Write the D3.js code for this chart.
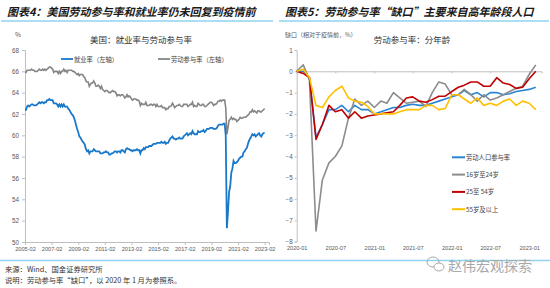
<!DOCTYPE html>
<html>
<head>
<meta charset="utf-8">
<script src="https://cdn.jsdelivr.net/npm/d3@7"></script>
<style>
  body { margin: 0; background: #fff; }
  svg { display: block; font-family: "Noto Sans CJK SC", "Noto Sans", sans-serif; }
</style>
</head>
<body>
<svg id="chart" width="550" height="288"></svg>
<script>
// ---- left panel: US employment-population ratio and participation rate, monthly from 2005-02
const empStart = '2005-02';
const empRate = [
  62.4, 62.4, 62.7, 62.8, 62.7, 62.8, 62.9, 62.9, 62.8, 62.8, 62.8,
  62.9, 63.0, 63.1, 63.0, 63.1, 63.1, 63.0, 63.1, 63.1, 63.3, 63.3, 63.4,
  63.3, 63.3, 63.3, 63.0, 63.0, 63.0, 62.9, 62.7, 62.9, 62.7, 62.9, 62.7,
  62.9, 62.7, 62.7, 62.7, 62.5, 62.4, 62.2, 62.0, 61.9, 61.7, 61.4, 61.0,
  60.6, 60.3, 59.9, 59.8, 59.6, 59.4, 59.3, 59.1, 58.7, 58.5, 58.6, 58.3,
  58.5, 58.5, 58.5, 58.7, 58.6, 58.5, 58.5, 58.5, 58.5, 58.3, 58.3, 58.3,
  58.4, 58.4, 58.5, 58.4, 58.4, 58.2, 58.2, 58.3, 58.3, 58.4, 58.5, 58.5,
  58.4, 58.5, 58.5, 58.4, 58.6, 58.6, 58.5, 58.4, 58.7, 58.8, 58.7, 58.7,
  58.6, 58.6, 58.5, 58.6, 58.6, 58.6, 58.7, 58.6, 58.6, 58.3, 58.6, 58.6,
  58.8, 58.7, 58.9, 58.9, 58.9, 59.0, 59.0, 59.0, 59.1, 59.2, 59.2, 59.2,
  59.3, 59.3, 59.3, 59.3, 59.4, 59.3, 59.3, 59.4, 59.2, 59.3, 59.3, 59.5,
  59.7, 59.8, 59.9, 59.7, 59.7, 59.6, 59.7, 59.7, 59.8, 59.7, 59.7, 59.7,
  59.9, 60.0, 60.1, 60.2, 60.0, 60.1, 60.2, 60.1, 60.4, 60.2, 60.1, 60.1,
  60.1, 60.4, 60.3, 60.3, 60.4, 60.4, 60.5, 60.3, 60.4, 60.6, 60.6, 60.6,
  60.7, 60.7, 60.7, 60.6, 60.6, 60.6, 60.7, 60.9, 61.0, 61.0, 61.0, 61.0,
  61.1, 61.1, 60.0, 51.3, 52.8, 54.7, 55.2, 56.5, 56.9, 57.6, 57.4, 57.4,
  57.5, 57.6, 57.8, 57.9, 58.0, 58.0, 58.4, 58.5, 58.7, 58.8, 59.2, 59.5,
  59.7, 59.9, 60.1, 60.0, 60.1, 59.9, 60.0, 60.1, 60.2, 60.0, 59.9, 60.1,
  60.2, 60.2
];
const partRate = [
  65.9, 65.9, 66.1, 66.1, 66.1, 66.1, 66.2, 66.1, 66.1, 66.0, 66.0,
  66.0, 66.1, 66.2, 66.1, 66.1, 66.2, 66.1, 66.2, 66.1, 66.2, 66.3, 66.4,
  66.4, 66.3, 66.2, 65.9, 66.0, 66.0, 66.0, 65.8, 66.0, 65.8, 66.0, 66.0,
  66.2, 66.0, 66.1, 65.9, 66.1, 66.1, 66.1, 66.1, 66.0, 66.0, 65.9, 65.8,
  65.7, 65.8, 65.6, 65.7, 65.7, 65.7, 65.5, 65.4, 65.1, 65.0, 65.0, 64.6,
  64.8, 64.9, 64.9, 65.1, 64.9, 64.6, 64.6, 64.7, 64.6, 64.4, 64.6, 64.3,
  64.2, 64.1, 64.2, 64.2, 64.1, 64.0, 64.0, 64.1, 64.2, 64.1, 64.1, 64.0,
  63.7, 63.8, 63.8, 63.7, 63.8, 63.8, 63.7, 63.5, 63.6, 63.8, 63.6, 63.7,
  63.6, 63.4, 63.3, 63.4, 63.4, 63.4, 63.3, 63.3, 63.2, 62.8, 63.0, 62.9,
  62.9, 62.9, 63.1, 62.8, 62.8, 62.8, 62.9, 62.9, 62.8, 62.9, 62.9, 62.7,
  62.9, 62.7, 62.7, 62.7, 62.8, 62.6, 62.6, 62.6, 62.4, 62.5, 62.5, 62.7,
  62.7, 62.8, 63.0, 62.8, 62.6, 62.7, 62.8, 62.8, 62.9, 62.8, 62.7, 62.7,
  62.9, 62.9, 62.9, 62.9, 62.7, 62.8, 62.9, 62.9, 63.1, 62.7, 62.8, 62.7,
  62.7, 63.0, 62.9, 62.8, 62.8, 62.9, 62.9, 62.7, 62.7, 62.8, 62.9, 63.0,
  63.1, 63.1, 63.0, 62.8, 62.9, 62.9, 63.0, 63.2, 63.2, 63.3, 63.2, 63.3,
  63.3, 63.3, 62.6, 60.1, 60.7, 61.4, 61.5, 61.7, 61.5, 61.6, 61.5, 61.5,
  61.3, 61.4, 61.5, 61.7, 61.6, 61.6, 61.7, 61.7, 61.7, 61.8, 61.9, 62.0,
  62.2, 62.2, 62.4, 62.2, 62.3, 62.2, 62.1, 62.3, 62.3, 62.2, 62.2, 62.3,
  62.4, 62.5
];
const leftXTicks = ['2005-02', '2007-02', '2009-02', '2011-02', '2013-02', '2015-02',
                    '2017-02', '2019-02', '2021-02', '2023-02'];
const leftYTicks = [50, 52, 54, 56, 58, 60, 62, 64, 66, 68];
const leftNames = ['就业率（左轴）', '劳动参与率（左轴）'];

// ---- right panel: participation gap vs 2020-01 by age group, monthly from 2020-01
const gapStart = '2020-01';
const gapTotal = [
  0, 0, -0.3, -3.1, -2.5, -1.8, -1.8, -1.6, -1.9, -1.6, -1.8, -1.8,
  -2.0, -1.9, -1.8, -1.7, -1.7, -1.6, -1.55, -1.6, -1.6, -1.5, -1.4, -1.3,
  -1.2, -1.1, -0.9, -1.1, -1.0, -1.2, -1.0, -1.0, -1.1, -1.05, -0.95, -0.9,
  -0.85, -0.75
];
const gapYoung = [
  0, 0.3, -0.4, -7.5, -5.1, -4.3, -4.0, -3.5, -2.2, -1.3, -1.6, -1.4,
  -1.7, -1.4, -1.5, -1.0, -1.25, -1.5, -1.45, -1.4, -1.65, -1.0, -0.5, -0.6,
  -1.1, -1.1, -0.85, -1.1, -1.4, -1.1, -1.35, -1.25, -1.1, -0.95, -0.8, -0.7,
  -0.15, 0.3
];
const gapPrime = [
  0, -0.1, -0.3, -3.2, -2.5, -1.6, -1.9, -1.8, -2.2, -1.9, -2.2, -2.1,
  -2.05, -2.0, -1.95, -1.9, -1.6, -1.25, -1.2, -1.4, -1.45, -1.33, -1.17, -1.17,
  -0.95, -0.75, -0.65, -0.5, -0.5, -0.7, -0.7, -0.3, -0.55, -0.62, -0.8, -0.75,
  -0.35, 0.0
];
const gapOld = [
  0, 0.1, -0.3, -1.6, -1.7, -1.2, -0.9, -0.7, -1.25, -1.4, -1.45, -1.65,
  -2.0, -2.0, -2.0, -2.0, -1.9, -1.8, -1.8, -1.8, -1.6, -1.6, -1.8, -1.75,
  -1.1, -1.1, -1.3, -1.5, -1.25, -1.6, -1.5, -1.6, -1.4, -1.3, -1.6, -1.4,
  -1.5, -1.8
];
const rightXTicks = ['2020-01', '2020-07', '2021-01', '2021-07', '2022-01', '2022-07', '2023-01'];
const rightYTicks = [1, 0, -1, -2, -3, -4, -5, -6, -7, -8];
const gapNames = ['劳动人口参与率', '16岁至24岁', '25至 54岁', '55岁及以上'];

const parseMonth = d3.timeParse('%Y-%m');
const fmtMonth = d3.timeFormat('%Y-%m');

function monthly(start, values) {
  const t0 = parseMonth(start);
  return values.map((v, i) => ({ date: d3.timeMonth.offset(t0, i), value: v }));
}

const svg = d3.select('#chart');
const axisColor = '#bfbfbf';
const labelColor = '#595959';

function styleAxis(g, size) {
  g.select('.domain').attr('stroke', axisColor);
  g.selectAll('.tick line').attr('stroke', axisColor);
  g.selectAll('.tick text').attr('fill', labelColor).style('font-size', (size || 6.5) + 'px')
    .style('font-family', '"Liberation Sans", Arial, sans-serif');
}

function header(x0, x1, title) {
  svg.append('text')
    .attr('x', x0 + 6).attr('y', 15.5)
    .style('font-size', '11px').style('font-weight', 'bold').style('font-style', 'italic')
    .attr('fill', '#1a1a1a')
    .text(title);
  svg.append('line')
    .attr('x1', x0).attr('x2', x1).attr('y1', 21).attr('y2', 21)
    .attr('stroke', '#8fd3f2').attr('stroke-width', 1.3);
}

// ---------------- left chart
header(1, 273, '图表4：美国劳动参与率和就业率仍未回复到疫情前');

const lx = d3.scaleTime()
  .domain([parseMonth('2005-02'), parseMonth('2023-06')])
  .range([25, 269]);
const ly = d3.scaleLinear().domain([50, 68]).range([242, 50]);

svg.append('g')
  .attr('transform', 'translate(25,0)')
  .call(d3.axisLeft(ly).tickValues(leftYTicks).tickSize(3).tickPadding(3))
  .call(styleAxis, 6.3);

svg.append('g')
  .attr('transform', 'translate(0,242)')
  .call(d3.axisBottom(lx).tickValues(leftXTicks.map(parseMonth)).tickFormat(fmtMonth)
    .tickSize(3).tickPadding(2))
  .call(styleAxis, 5.6);

svg.append('text').attr('x', 18).attr('y', 37)
  .style('font-size', '6.5px').attr('fill', labelColor).attr('text-anchor', 'middle').text('%');
svg.append('text').attr('x', 141).attr('y', 42.5)
  .style('font-size', '8.5px').attr('fill', '#333').attr('text-anchor', 'middle')
  .text('美国：就业率与劳动参与率');

const leftLine = d3.line().x(d => lx(d.date)).y(d => ly(d.value));
const leftColors = ['#1a78c9', '#858585'];

svg.append('path')
  .attr('d', leftLine(monthly(empStart, partRate)))
  .attr('fill', 'none').attr('stroke', leftColors[1]).attr('stroke-width', 1.6);
svg.append('path')
  .attr('d', leftLine(monthly(empStart, empRate)))
  .attr('fill', 'none').attr('stroke', leftColors[0]).attr('stroke-width', 1.8);

[[61, leftNames[0], leftColors[0]], [158, leftNames[1], leftColors[1]]].forEach(([x, name, c]) => {
  svg.append('line').attr('x1', x).attr('x2', x + 12).attr('y1', 59).attr('y2', 59)
    .attr('stroke', c).attr('stroke-width', 1.8);
  svg.append('text').attr('x', x + 13).attr('y', 61.5)
    .style('font-size', '6.3px').attr('fill', '#404040').text(name);
});

// ---------------- right chart
header(279, 549, '图表5：劳动参与率“缺口”主要来自高年龄段人口');

const rx = d3.scaleTime()
  .domain([parseMonth('2020-01'), parseMonth('2023-03')])
  .range([296.7, 541.7]);
const ry = d3.scaleLinear().domain([-8, 1]).range([241.7, 50]);

svg.append('g')
  .attr('transform', 'translate(296.7,0)')
  .call(d3.axisLeft(ry).tickValues(rightYTicks).tickSize(2).tickPadding(2).tickFormat(d3.format('d')))
  .call(styleAxis, 6.3);

// bottom labels
svg.append('g')
  .attr('transform', 'translate(0,241.7)')
  .call(d3.axisBottom(rx).tickValues(rightXTicks.map(parseMonth)).tickFormat(fmtMonth)
    .tickSize(0).tickPadding(4))
  .call(styleAxis, 5.6)
  .call(g => g.select('.domain').remove());

// zero line with tick marks
svg.append('g')
  .attr('transform', `translate(0,${ry(0)})`)
  .call(d3.axisBottom(rx).tickValues(rightXTicks.map(parseMonth)).tickFormat('').tickSize(2))
  .call(styleAxis);

svg.append('text').attr('x', 285).attr('y', 36.5)
  .style('font-size', '6px').attr('fill', labelColor).text('缺口（相对于疫情前，%）');
svg.append('text').attr('x', 412).attr('y', 42.5)
  .style('font-size', '8.5px').attr('fill', '#333').attr('text-anchor', 'middle')
  .text('劳动参与率：分年龄');

const rightLine = d3.line().x(d => rx(d.date)).y(d => ry(d.value));
const gapSeries = [gapTotal, gapYoung, gapPrime, gapOld];
const gapColors = ['#2a84d2', '#8c8c8c', '#c00000', '#ffc000'];

gapSeries.forEach((vals, i) => {
  svg.append('path')
    .attr('d', rightLine(monthly(gapStart, vals)))
    .attr('fill', 'none').attr('stroke', gapColors[i]).attr('stroke-width', 1.6)
    .attr('stroke-linejoin', 'round');
});

gapNames.forEach((name, i) => {
  const y = 157.3 + i * 17.3;
  svg.append('line').attr('x1', 452).attr('x2', 465).attr('y1', y).attr('y2', y)
    .attr('stroke', gapColors[i]).attr('stroke-width', 2);
  svg.append('text').attr('x', 466).attr('y', y + 2.3)
    .style('font-size', '6.3px').attr('fill', '#404040').text(name);
});

// ---------------- footer
svg.append('line').attr('x1', 0).attr('x2', 550).attr('y1', 260.5).attr('y2', 260.5)
  .attr('stroke', '#8fd3f2').attr('stroke-width', 1.3);
svg.append('text').attr('x', 5).attr('y', 271.5)
  .style('font-size', '7.3px').attr('fill', '#333').text('来源：Wind、国金证券研究所');
svg.append('text').attr('x', 5).attr('y', 283)
  .style('font-size', '7.3px').attr('fill', '#333').text('说明：劳动参与率“缺口”，以 2020 年 1 月为参照系。');

// watermark
const wm = svg.append('g').attr('fill', 'none').attr('stroke', '#a8a8a8').attr('stroke-width', 1);
wm.append('ellipse').attr('cx', 433).attr('cy', 262).attr('rx', 6).attr('ry', 5);
wm.append('ellipse').attr('cx', 439).attr('cy', 267).attr('rx', 5).attr('ry', 4).attr('fill', '#fff');
svg.append('text').attr('x', 448).attr('y', 270.5)
  .style('font-size', '14px').attr('fill', '#a8a8a8').text('赵伟宏观探索');
</script>
</body>
</html>
